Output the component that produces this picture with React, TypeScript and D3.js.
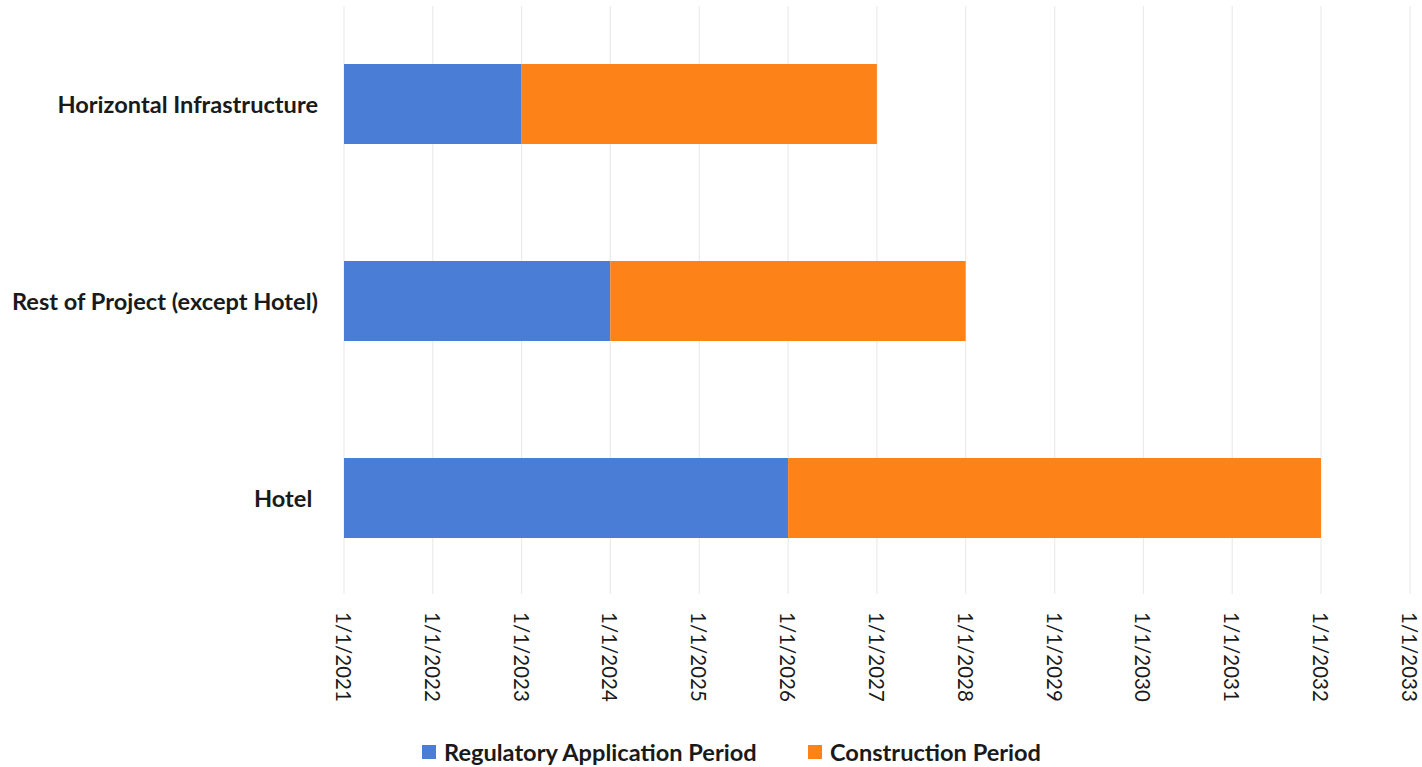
import React from "react";
import * as d3 from "d3";

const categories = ["Horizontal Infrastructure", "Rest of Project (except Hotel)", "Hotel "];
const regStart = ["2021-01-01", "2021-01-01", "2021-01-01"];
const regEnd = ["2023-01-01", "2024-01-01", "2026-01-01"];
const conEnd = ["2027-01-01", "2028-01-01", "2032-01-01"];
const tickYears = [2021, 2022, 2023, 2024, 2025, 2026, 2027, 2028, 2029, 2030, 2031, 2032, 2033];
const seriesNames = ["Regulatory Application Period", "Construction Period"];
const colors = ["#4a7dd6", "#fd8319"];

const W = 1422;
const H = 767;
const parse = (s: string) => new Date(s + "T00:00:00Z");

export default function App() {
  const x = d3
    .scaleUtc()
    .domain([Date.UTC(2021, 0, 1), Date.UTC(2033, 0, 1)])
    .range([344, 1410]);
  const y = d3
    .scaleBand<string>()
    .domain(categories)
    .range([5.5, 596.5])
    .paddingInner(0.594)
    .paddingOuter(0.297);
  const font = "Lato, 'Open Sans', sans-serif";

  return (
    <svg
      width={W}
      height={H}
      style={{ position: "absolute", left: 0, top: 0, background: "#fff" }}
      fontFamily={font}
    >
      {tickYears.map((yr) => {
        const xx = x(Date.UTC(yr, 0, 1));
        return (
          <g key={yr}>
            <line x1={xx} x2={xx} y1={6} y2={594} stroke="#ebebeb" strokeWidth={1.2} />
            <text
              transform={`translate(${xx},612) rotate(90)`}
              textAnchor="start"
              dominantBaseline="central"
              fontSize={20.5}
              fill="#1a1a1a"
            >
              {`1/1/${yr}`}
            </text>
          </g>
        );
      })}
      {categories.map((c, i) => {
        const y0 = y(c)!;
        const bh = y.bandwidth();
        const a = x(parse(regStart[i]));
        const b = x(parse(regEnd[i]));
        const e = x(parse(conEnd[i]));
        return (
          <g key={c}>
            <rect x={a} y={y0} width={b - a} height={bh} fill={colors[0]} />
            <rect x={b} y={y0} width={e - b} height={bh} fill={colors[1]} />
            <text
              x={318}
              y={y0 + bh / 2}
              textAnchor="end"
              dominantBaseline="central"
              fontSize={23.6}
              fontWeight={700}
              fill="#1a1a1a"
              style={{ whiteSpace: "pre" }}
            >
              {c}
            </text>
          </g>
        );
      })}
      {seriesNames.map((s, i) => {
        const lx = i === 0 ? 422 : 808;
        return (
          <g key={s}>
            <rect x={lx} y={745} width={14} height={14} fill={colors[i]} />
            <text
              x={lx + 22}
              y={752}
              dominantBaseline="central"
              fontSize={23.6}
              fontWeight={700}
              fill="#1a1a1a"
            >
              {s}
            </text>
          </g>
        );
      })}
    </svg>
  );
}
